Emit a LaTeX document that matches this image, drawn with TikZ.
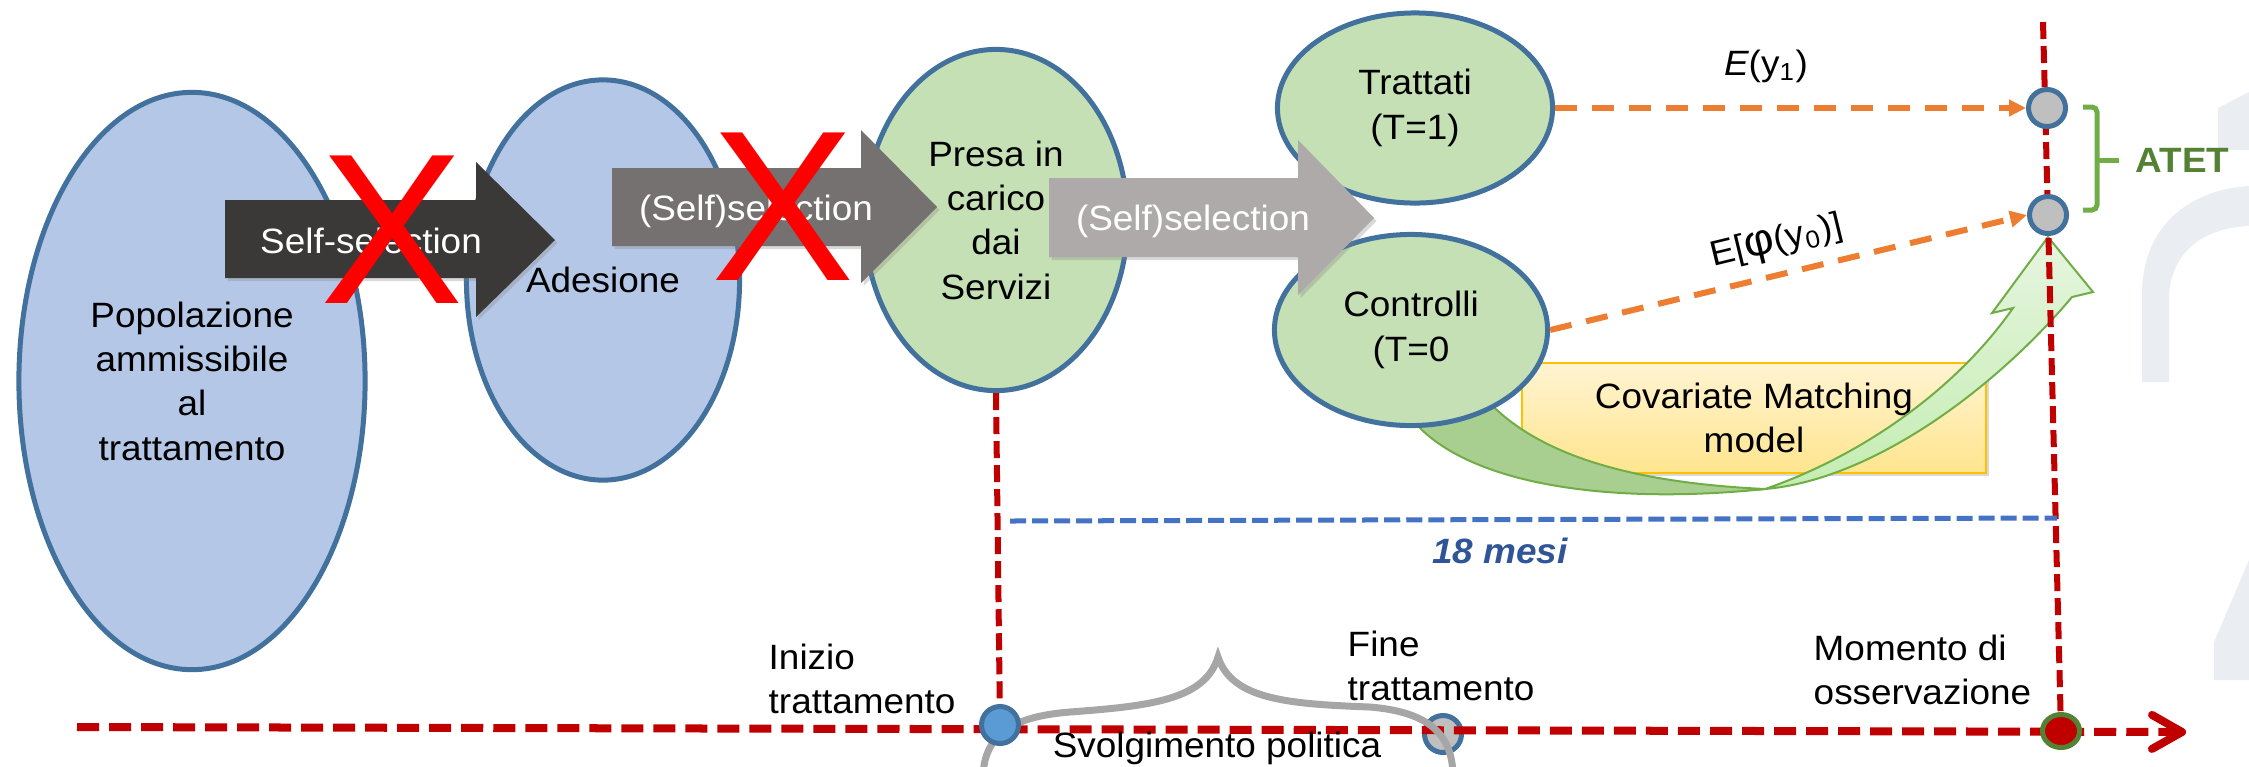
\documentclass[tikz,border=0pt]{standalone}
\usepackage{fontspec}
\setmainfont{Liberation Sans}[FakeStretch=1.05]
\newfontfamily\xfont{Liberation Sans}
\usetikzlibrary{shapes.geometric,arrows.meta,shadows}
\definecolor{ellborder}{HTML}{41719C}
\definecolor{bluefill}{HTML}{B4C7E7}
\definecolor{greenfill}{HTML}{C5E0B4}
\definecolor{arrdark}{HTML}{3B3838}
\definecolor{arrmid}{HTML}{767171}
\definecolor{arrlight}{HTML}{AEAAAA}
\definecolor{xred}{HTML}{FF0000}
\definecolor{dred}{HTML}{C00000}
\definecolor{orng}{HTML}{ED7D31}
\definecolor{dotblue}{HTML}{4472C4}
\definecolor{txtblue}{HTML}{2F5597}
\definecolor{atetgreen}{HTML}{548235}
\definecolor{brgreen}{HTML}{70AD47}
\definecolor{greyfill}{HTML}{BFBFBF}
\definecolor{circblue}{HTML}{5B9BD5}
\definecolor{bracegrey}{HTML}{A6A6A6}
\definecolor{boxtop}{HTML}{FFF4D2}
\definecolor{boxbot}{HTML}{FFE58E}
\definecolor{boxborder}{HTML}{FFC000}
\definecolor{gdark}{HTML}{A9CF90}
\definecolor{glight}{HTML}{E6F5DF}
\definecolor{glight2}{HTML}{C4EDB2}
\definecolor{wmark}{HTML}{EAEEF2}
\newcommand{\myfs}{\fontsize{10}{12.6}\selectfont}
\begin{document}
\begin{tikzpicture}[x=0.01cm,y=-0.01cm,
  txt/.style={font=\myfs, inner sep=0pt, align=center},
  ell/.style={ellipse, draw=ellborder, line width=0.05cm, inner sep=0pt, font=\myfs, align=center},
  shad/.style={drop shadow={shadow xshift=0.025cm, shadow yshift=-0.03cm, opacity=0.3}},
  xmark/.style={font=\xfont\fontsize{61}{61}\selectfont, text=xred, inner sep=0pt},
  circ/.style={circle, line width=0.05cm, draw=ellborder, minimum size=0.37cm, inner sep=0pt},
  obs/.style={ellipse, line width=0.05cm, draw=atetgreen, fill=dred, minimum width=0.37cm, minimum height=0.33cm, inner sep=0pt},
  vred/.style={dred, line width=0.06cm, dash pattern=on 0.17cm off 0.07cm},
  odash/.style={orng, line width=0.06cm, dash pattern=on 0.22cm off 0.15cm, -{Triangle[length=0.17cm,width=0.16cm]}},
  covbox/.style={draw=boxborder, line width=0.02cm, top color=boxtop, bottom color=boxbot,
     minimum width=4.64cm, minimum height=1.10cm, inner sep=0pt, font=\myfs, align=center, shad}
]
\useasboundingbox (0,0) rectangle (2249,766);
% faint watermark
\fill[wmark] (2142,382) -- (2142,294) .. controls (2142,230) and (2185,190) .. (2249,186)
  -- (2249,226) .. controls (2200,228) and (2169,255) .. (2169,300) -- (2169,382) -- cycle;
\fill[wmark] (2218,108) -- (2249,92) -- (2249,150) -- (2218,150) -- cycle;
\fill[wmark] (2249,560) -- (2214,642) -- (2214,680) -- (2249,680) -- cycle;
% ellipses
\node[ell, fill=bluefill, minimum width=3.46cm, minimum height=5.77cm] (pop) at (192,381) {Popolazione\\ammissibile\\al\\trattamento};
\node[ell, fill=bluefill, minimum width=2.73cm, minimum height=4.00cm] (ade) at (603,280) {Adesione};
\node[ell, fill=greenfill, minimum width=2.63cm, minimum height=3.41cm] (presa) at (996,220) {Presa in\\carico\\dai\\Servizi};
\node[ell, fill=greenfill, minimum width=2.75cm, minimum height=1.90cm] (tratt) at (1415,108) {Trattati\\(T=1)};
% matching box
\node[covbox] (cov) at (1754,418) {Covariate Matching\\model};
% curved green arrow
\draw[brgreen, line width=0.02cm, fill=gdark] (1400,400) .. controls (1435,475) and (1580,508) .. (1765,489)
  .. controls (1660,484) and (1545,465) .. (1485,398) -- cycle;
\draw[brgreen, line width=0.02cm, top color=glight, bottom color=glight2] (1765,489)
  .. controls (1870,480) and (1992,392) .. (2072,297) -- (2093,292) -- (2048,237) -- (1992,313) -- (2013,308)
  .. controls (1950,398) and (1850,460) .. (1765,489) -- cycle;
\node[ell, fill=greenfill, minimum width=2.73cm, minimum height=1.91cm] (ctrl) at (1411,330) {Controlli\\(T=0};
% block arrows
\fill[arrdark, shad] (225,200) -- (476,200) -- (476,162) -- (555,240) -- (476,317) -- (476,278) -- (225,278) -- cycle;
\fill[arrmid, shad] (612,168) -- (861,168) -- (861,130) -- (937,207) -- (861,283) -- (861,246) -- (612,246) -- cycle;
\fill[arrlight, shad] (1049,178) -- (1298,178) -- (1298,140) -- (1374,218) -- (1298,295) -- (1298,257) -- (1049,257) -- cycle;
\node[txt, text=white, anchor=base] (s1) at (371,253) {Self-selection};
\node[txt, text=white, anchor=base] (s2) at (756,220) {(Self)selection};
\node[txt, text=white, anchor=base] (s3) at (1193,230) {(Self)selection};
\node[xmark] (x1) at (392,230) {X};
\node[xmark] (x2) at (783,207) {X};
% timeline points
\node[circ, fill=greyfill] (fine) at (1443,734) {};
\coordinate (topB) at (2043,22);
\coordinate (tl0) at (77,727);
\coordinate (tl1) at (2186,732);
\coordinate (m0) at (1010,521);
\coordinate (m1) at (2057,518);
\coordinate (inipt) at (1000,725);
\coordinate (mompt) at (2061,731);
% lines
\draw[vred] (presa.south) -- (inipt);
\draw[vred] (topB) -- (mompt);
\draw[dotblue, line width=0.05cm, dash pattern=on 0.16cm off 0.06cm] (m0) -- (m1);
\draw[dred, line width=0.08cm, dash pattern=on 0.22cm off 0.1cm, -{Straight Barb[length=0.3cm,width=0.34cm,round]}] (tl0) -- (tl1);
% grey brace
\draw[bracegrey, line width=0.07cm, line cap=round] (983,775) .. controls (985,730) and (1020,716) .. (1070,712)
  .. controls (1150,706) and (1205,700) .. (1218,657) .. controls (1232,700) and (1290,704) .. (1370,707)
  .. controls (1430,712) and (1452,735) .. (1453,775);
\node[circ, fill=circblue] (ini) at (inipt) {};
\node[obs] (mom) at (mompt) {};
% result points
\node[circ, fill=greyfill] (c1) at (2047,108) {};
\node[circ, fill=greyfill] (c2) at (2048,215) {};
\draw[odash] (tratt.east) -- (c1.west);
\draw[odash] (ctrl.east) -- (c2.west);
\node[txt, anchor=base] (ey1) at (1766,75) {{\itshape E}(y\textsubscript{1})};
\node[txt, rotate=13.6] (ephi) at (1777,243) {E[{\fontsize{12.5}{12.5}\selectfont φ}(y\textsubscript{0})]};
% ATET bracket
\coordinate (br0) at (2083,107);
\coordinate (br1) at (2083,210);
\coordinate (brm) at (2119,160);
\draw[brgreen, line width=0.05cm, rounded corners=0.05cm] (br0) -- (2097,107) -- (2097,210) -- (br1);
\draw[brgreen, line width=0.05cm] (2097,160) -- (brm);
\node[font=\myfs\bfseries, text=atetgreen, anchor=west, inner sep=0pt] (atet) at (2135,160) {ATET};
% labels
\node[font=\myfs\bfseries\itshape, text=txtblue, inner sep=0pt] (mesi) at (1500,551) {18 mesi};
\node[txt, align=left, anchor=north west] (lini) at (768,643) {Inizio\\trattamento};
\node[txt, align=left, anchor=north west] (lfine) at (1347,630) {Fine\\trattamento};
\node[txt, align=left, anchor=north west] (lmom) at (1813,634) {Momento di\\osservazione};
\node[txt, anchor=base] (svol) at (1217,757) {Svolgimento politica};
\end{tikzpicture}
\end{document}
